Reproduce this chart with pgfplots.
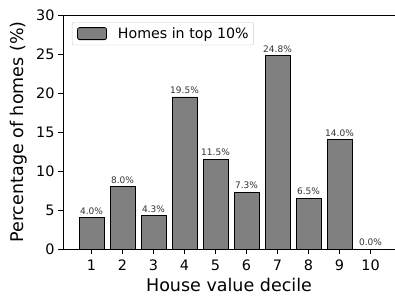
\documentclass[border=0pt]{standalone}
\usepackage{pgfplots}
\pgfplotsset{compat=1.18}
\usepackage{fontspec}
\setmainfont{DejaVu Sans}
\begin{document}
\begin{tikzpicture}
\begin{axis}[
  at={(0,0)}, anchor=south west,
  scale only axis, width=332pt, height=234pt,
  xmin=0.08, xmax=10.79, ymin=0, ymax=30,
  axis x line=box, axis y line*=left,
  xtick={1,2,3,4,5,6,7,8,9,10}, ytick={0,5,10,15,20,25,30},
  xtick pos=bottom, ytick pos=left,
  tick align=outside, major tick length=5pt,
  tick style={black, line width=0.8pt},
  axis line style={line width=0.8pt},
  /pgf/number format/assume math mode=true,
  ticklabel style={font=\fontsize{14.4}{16}\selectfont},
  xticklabel style={yshift=-2pt},
  xlabel={House value decile}, ylabel={Percentage of homes (\%)},
  label style={font=\fontsize{17.5}{19}\selectfont, inner sep=1pt},
  x label style={at={(axis description cs:0.5,-0.154)}, anchor=center},
  y label style={at={(axis description cs:-0.1325,0.5)}, anchor=center},
  ybar, bar shift=0pt, bar width=0.8,
  nodes near coords={\pgfmathprintnumber[fixed,fixed zerofill,precision=1]{\pgfplotspointmeta}\%},
  every node near coord/.append style={font=\fontsize{9}{10}\selectfont, color=black!80, yshift=-0.5pt},
  legend style={at={(axis description cs:0.027,0.97)}, anchor=north west,
    draw=black!20, rounded corners=2pt, font=\fontsize{14.2}{16}\selectfont,
    inner xsep=5pt, inner ysep=5pt, nodes={inner sep=0pt},
    /tikz/every odd column/.style={column sep=11pt}},
  legend image code/.code={\draw[#1] (0pt,-6pt) rectangle (29pt,6pt);},
]
\addplot[fill=gray, draw=black, line width=0.8pt] coordinates {
 (1,4.0) (2,8.0) (3,4.3) (4,19.5) (5,11.5) (6,7.3) (7,24.8) (8,6.5) (9,14.0) (10,0.0)};
\addlegendentry{Homes in top 10\%}
\end{axis}
\pgfresetboundingbox
\useasboundingbox (-63pt,-46pt) rectangle (332pt,249pt);
\end{tikzpicture}
\end{document}
